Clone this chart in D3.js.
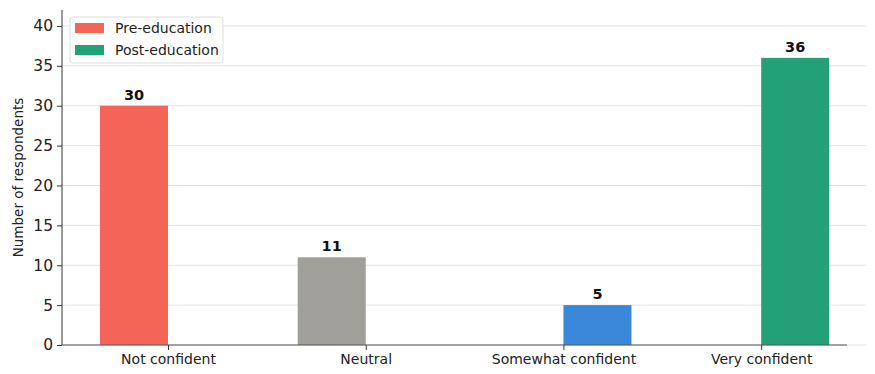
<!DOCTYPE html>
<html>
<head>
<meta charset="utf-8">
<script src="https://cdn.jsdelivr.net/npm/d3@7/dist/d3.min.js"></script>
<style>
  html, body { margin: 0; padding: 0; background: #ffffff; }
  svg { display: block; font-family: "DejaVu Sans", sans-serif; }
</style>
</head>
<body>
<svg id="chart" width="875" height="374"></svg>
<script>
// Confidence levels and respondent counts
const categories = ["Not confident", "Neutral", "Somewhat confident", "Very confident"];
const seriesNames = ["Pre-education", "Post-education"];
const preValues  = [30, 11, null, null];
const postValues = [null, null, 5, 36];
const barColors = ["#F46558", "#A19F9A", "#3B87D9", "#24A079"];
const legendColors = ["#F46558", "#24A079"];
const yTicks = [0, 5, 10, 15, 20, 25, 30, 35, 40];

const svg = d3.select("#chart");
const plotLeft = 62, plotRight = 847, gridRight = 866, plotTop = 10, plotBottom = 345;

// Numeric band positions: category i sits at x = i, bars offset by ±width/2
const barW = 0.344;
const x = d3.scaleLinear().domain([-0.536, 3.434]).range([plotLeft, plotRight]);
const y = d3.scaleLinear().domain([0, 42]).range([plotBottom, plotTop]);

// Horizontal gridlines
svg.append("g")
  .selectAll("line")
  .data(yTicks)
  .join("line")
  .attr("x1", plotLeft).attr("x2", gridRight)
  .attr("y1", d => y(d)).attr("y2", d => y(d))
  .attr("stroke", "#e3e3e3").attr("stroke-width", 1);

// Bars
const bars = [];
categories.forEach((c, i) => {
  if (preValues[i] != null) bars.push({ i, v: preValues[i], off: -1 });
  if (postValues[i] != null) bars.push({ i, v: postValues[i], off: 0 });
});

svg.append("g")
  .selectAll("rect")
  .data(bars)
  .join("rect")
  .attr("x", d => x(d.i + d.off * barW))
  .attr("width", d => x(d.i + (d.off + 1) * barW) - x(d.i + d.off * barW))
  .attr("y", d => y(d.v))
  .attr("height", d => y(0) - y(d.v))
  .attr("fill", d => barColors[d.i]);

// Value labels
svg.append("g")
  .selectAll("text")
  .data(bars)
  .join("text")
  .attr("x", d => x(d.i + (d.off + 0.5) * barW))
  .attr("y", d => y(d.v) - 6)
  .attr("text-anchor", "middle")
  .attr("font-size", 14.5)
  .attr("font-weight", "bold")
  .attr("fill", "#111")
  .text(d => d.v);

// Y axis
const yAxis = d3.axisLeft(y).tickValues(yTicks).tickSize(5).tickPadding(4);
const gy = svg.append("g").attr("transform", `translate(${plotLeft},0)`).call(yAxis);
gy.select(".domain").attr("d", `M0,${plotTop}V${plotBottom}`).attr("stroke", "#333");
gy.selectAll(".tick line").attr("stroke", "#333");
gy.selectAll(".tick text").attr("font-size", 15.5).attr("fill", "#222")
  .attr("font-family", "DejaVu Sans, sans-serif");

// X axis
const xAxis = d3.axisBottom(x).tickValues(d3.range(categories.length))
  .tickFormat(i => categories[i]).tickSize(5).tickPadding(4);
const gx = svg.append("g").attr("transform", `translate(0,${plotBottom})`).call(xAxis);
gx.select(".domain").attr("d", `M${plotLeft},0H${plotRight}`).attr("stroke", "#555");
gx.selectAll(".tick line").attr("stroke", "#333");
gx.selectAll(".tick text").attr("font-size", 14).attr("fill", "#222")
  .attr("font-family", "DejaVu Sans, sans-serif");

// Y axis title
svg.append("text")
  .attr("transform", `translate(22.5,${(plotTop + plotBottom) / 2}) rotate(-90)`)
  .attr("text-anchor", "middle")
  .attr("font-size", 13.5)
  .attr("fill", "#222")
  .text("Number of respondents");

// Legend
const lg = svg.append("g").attr("transform", "translate(70,17)");
lg.append("rect")
  .attr("width", 153).attr("height", 46).attr("rx", 3)
  .attr("fill", "#fff").attr("fill-opacity", 0.85)
  .attr("stroke", "#dddddd");
seriesNames.forEach((name, k) => {
  lg.append("rect")
    .attr("x", 5).attr("y", 6 + k * 22)
    .attr("width", 29).attr("height", 10)
    .attr("fill", legendColors[k]);
  lg.append("text")
    .attr("x", 45).attr("y", 16 + k * 22)
    .attr("font-size", 14)
    .attr("fill", "#222")
    .text(name);
});
</script>
</body>
</html>
